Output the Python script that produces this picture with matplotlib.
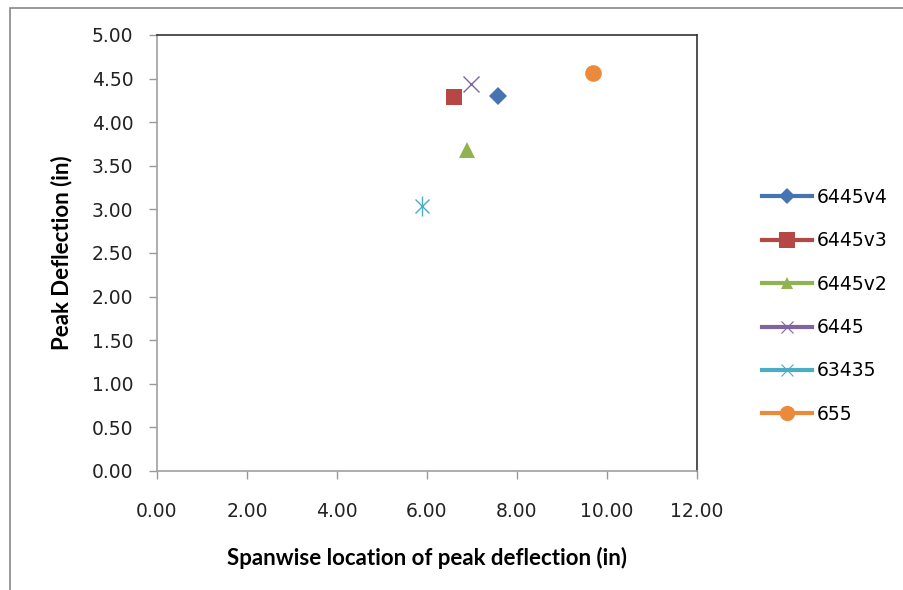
import matplotlib
matplotlib.use("Agg")
import matplotlib.pyplot as plt
from matplotlib.patches import Rectangle
from matplotlib.lines import Line2D

# data
series = ["6445v4", "6445v3", "6445v2", "6445", "63435", "655"]
span_loc = [7.58, 6.60, 6.89, 6.98, 5.89, 9.69]
peak_defl = [4.30, 4.29, 3.68, 4.44, 3.04, 4.56]
colors = ["#4674b3", "#b54744", "#8fb350", "#8064a2", "#4bacc6", "#ec8a3c"]
markers = ["D", "s", "^", "x", "*", "o"]

plt.rcParams["font.family"] = ["DejaVu Sans"]

fig = plt.figure(figsize=(9.04, 5.90), dpi=100)
ax = fig.add_axes([157 / 904, 1 - 471 / 590, 540 / 904, 436 / 590])

# outer chart frame
fig.patches.append(Rectangle((10 / 904, -0.1), 1.2, 1 - 8 / 590 + 0.1,
                             transform=fig.transFigure, fill=False,
                             edgecolor="#888888", linewidth=1.2))

handles = []
for name, x, y, c, m in zip(series, span_loc, peak_defl, colors, markers):
    if m == "x":
        ax.plot(x, y, marker="x", color=c, markersize=11, mew=1.0, ls="none")
        hm = dict(marker="x", markersize=8, mew=0.8)
    elif m == "*":
        # asterisk: x + vertical bar
        ax.plot(x, y, marker="x", color=c, markersize=10, mew=1.0, ls="none")
        ax.plot(x, y, marker="|", color=c, markersize=14, mew=1.0, ls="none")
        hm = dict(marker="x", markersize=8, mew=0.8)
    else:
        size = {"D": 9, "s": 11, "^": 11, "o": 12}[m]
        ax.plot(x, y, marker=m, color=c, markersize=size, mew=0, ls="none")
        hm = dict(marker=m, markersize={"D": 8, "s": 11, "^": 9, "o": 11}[m], mew=0)
    handles.append(Line2D([], [], color=c, lw=3, **hm))

ax.set_xlim(0, 12)
ax.set_ylim(0, 5)
ax.set_xticks([0, 2, 4, 6, 8, 10, 12])
ax.set_yticks([0, 0.5, 1, 1.5, 2, 2.5, 3, 3.5, 4, 4.5, 5])
ax.xaxis.set_major_formatter(lambda v, p: f"{v:.2f}")
ax.yaxis.set_major_formatter(lambda v, p: f"{v:.2f}")
ax.tick_params(direction="out", length=6, width=1, labelsize=13.5,
               colors="#999999", labelcolor="#222222")
ax.tick_params(axis="x", pad=16)
ax.tick_params(axis="y", pad=11)
ax.spines["left"].set_color("#a0a0a0")
ax.spines["bottom"].set_color("#a0a0a0")
ax.spines["top"].set_color("#333333")
ax.spines["right"].set_color("#333333")
for s in ax.spines.values():
    s.set_linewidth(1.2)

ax.set_xlabel("Spanwise location of peak deflection (in)", fontsize=16,
              fontfamily="Lato", fontweight="bold", labelpad=19)
ax.set_ylabel("Peak Deflection (in)", fontsize=16, fontfamily="Lato",
              fontweight="bold", labelpad=14)

fig.legend(handles, series, loc="upper left",
           bbox_to_anchor=(762 / 904, 1 - 188 / 590),
           frameon=False, fontsize=13.5, handlelength=2.67, handletextpad=0.27,
           labelspacing=1.3, borderpad=0, borderaxespad=0)

fig.savefig("out.png", dpi=100)
